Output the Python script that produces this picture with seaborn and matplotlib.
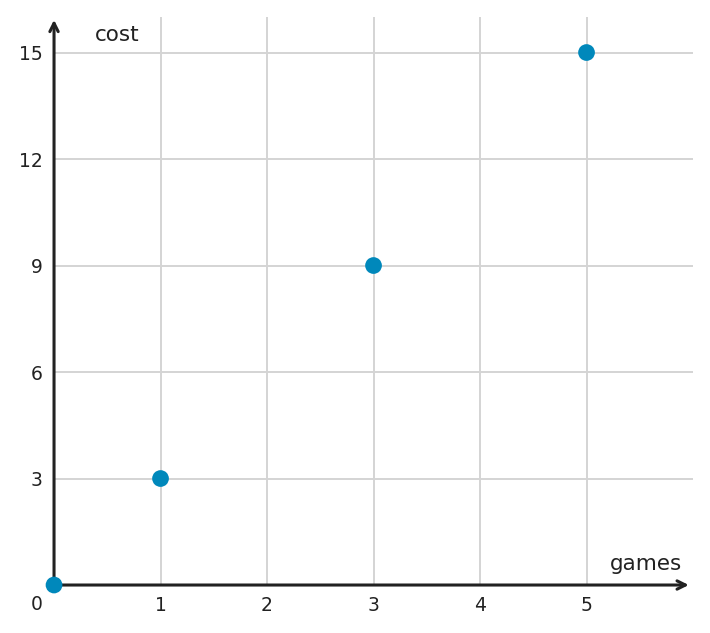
import matplotlib
matplotlib.use("Agg")
import matplotlib.pyplot as plt
import seaborn as sns
import pandas as pd

games = [0, 1, 3, 5]
cost = [0, 3, 9, 15]
x_ticks = [1, 2, 3, 4, 5]
y_ticks = [3, 6, 9, 12, 15]

df = pd.DataFrame({"games": games, "cost": cost})

sns.set_style("white")
plt.rcParams['font.family'] = ['DejaVu Sans']

fig = plt.figure(figsize=(7.1, 6.33), dpi=100)
ax = fig.add_axes([0.0761, 0.0758, 0.9, 0.8973])

text_col = "#222222"

ax.set_xlim(0, 6)
ax.set_ylim(0, 16)
ax.set_xticks(x_ticks)
ax.set_yticks(y_ticks)
ax.grid(True, color="#d4d4d4", linewidth=1.4)
ax.set_axisbelow(True)
for s in ax.spines.values():
    s.set_visible(False)
ax.tick_params(axis="both", direction="in", length=5, width=2, color=text_col,
               labelsize=13.5, labelcolor=text_col, pad=8)

# axes with arrowheads
ax.annotate("", xy=(5.96, 0), xytext=(0, 0), xycoords="data",
            arrowprops=dict(arrowstyle="->,head_length=0.6,head_width=0.3",
                            color=text_col, lw=2.2, shrinkA=0, shrinkB=0),
            annotation_clip=False)
ax.annotate("", xy=(0, 15.92), xytext=(0, 0), xycoords="data",
            arrowprops=dict(arrowstyle="->,head_length=0.6,head_width=0.3",
                            color=text_col, lw=2.2, shrinkA=0, shrinkB=0),
            annotation_clip=False)

sns.scatterplot(data=df, x="games", y="cost", ax=ax, color="#0088bb", s=145,
                edgecolor="none", zorder=5, clip_on=False)

ax.set_xlabel("")
ax.set_ylabel("")
ax.text(0.38, 15.5, "cost", fontsize=15.5, color=text_col, ha="left", va="center")
ax.text(5.9, 0.6, "games", fontsize=15.5, color=text_col, ha="right", va="center")
ax.text(-0.16, -0.55, "0", fontsize=13.5, color=text_col, ha="center", va="center")

fig.savefig("out.png", dpi=100)
